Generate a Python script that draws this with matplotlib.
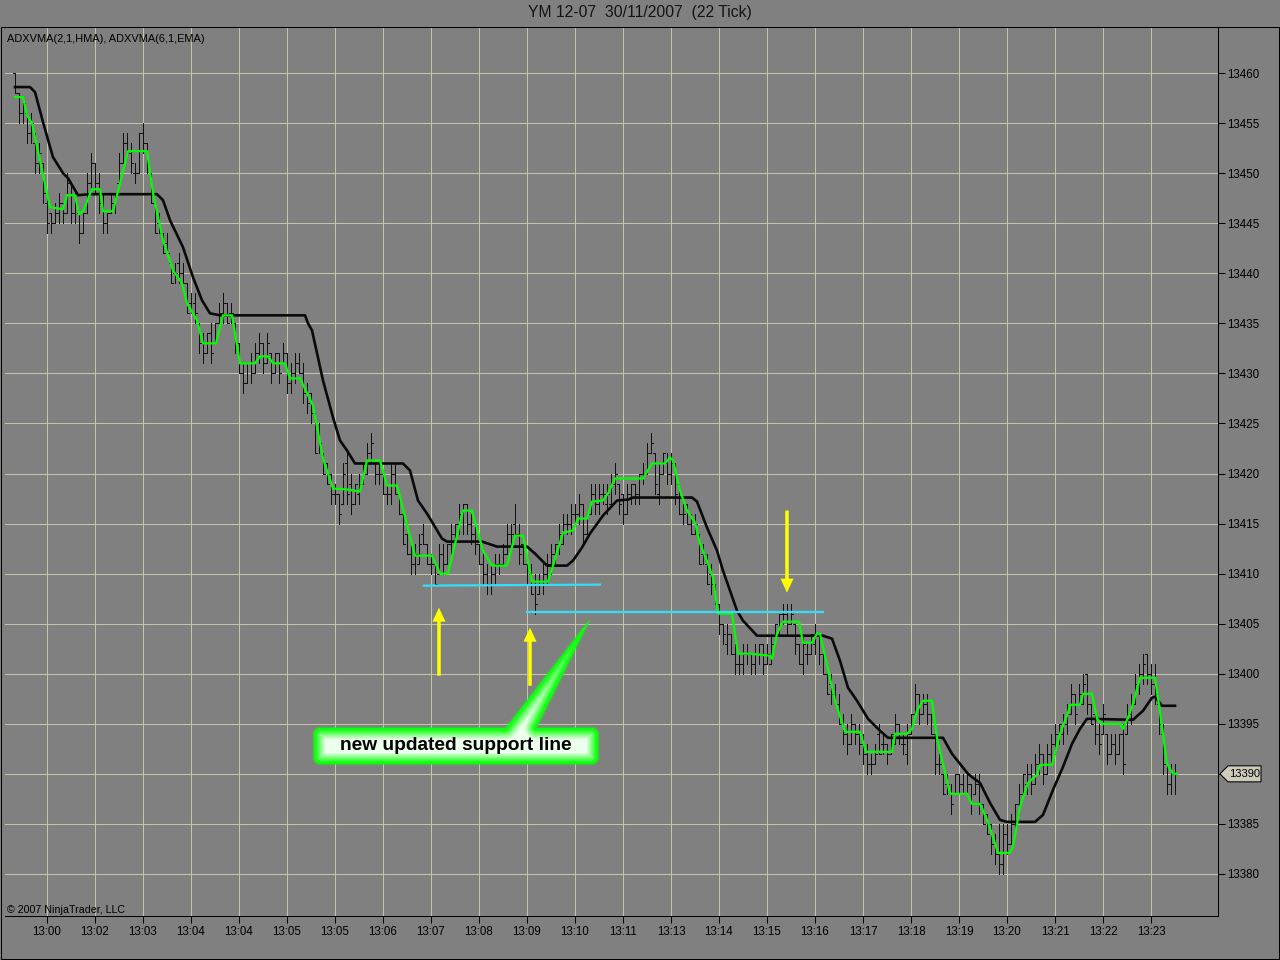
import numpy as np
import matplotlib
matplotlib.use('Agg')
import matplotlib.pyplot as plt
from matplotlib.collections import LineCollection
from matplotlib.patches import Rectangle, Polygon, FancyArrow
from matplotlib.path import Path

plt.rcParams['font.family'] = ['Liberation Sans', 'DejaVu Sans']

title = 'YM 12-07  30/11/2007  (22 Tick)'
indicator_label = 'ADXVMA(2,1,HMA), ADXVMA(6,1,EMA)'
copyright_label = '\u00a9 2007 NinjaTrader, LLC'
callout_text = 'new updated support line'

BASE = 13380  # bar prices are written as offsets from this level

# 22 tick bars, one entry per bar
lows = [
    78, 75, 75, 73, 73, 70, 70, 67, 64, 64,
    65, 65, 65, 66, 65, 65, 63, 64, 66, 68,
    68, 66, 64, 64, 66, 66, 69, 71, 72, 70,
    69, 70, 72, 70, 67, 64, 64, 62, 62, 59,
    59, 59, 59, 56, 56, 55, 52, 51, 52, 51,
    53, 55, 55, 55, 55, 52, 50, 48, 49, 49,
    50, 51, 50, 51, 49, 50, 49, 51, 48, 48,
    49, 50, 47, 46, 45, 42, 42, 40, 39, 37,
    37, 35, 37, 37, 36, 37, 37, 39, 40, 41,
    39, 39, 38, 37, 37, 38, 36, 33, 32, 30,
    30, 31, 33, 31, 30, 29, 30, 30, 31, 32,
    33, 34, 34, 34, 33, 32, 31, 29, 28, 28,
    29, 30, 31, 32, 33, 34, 31, 31, 29, 28,
    26, 28, 28, 29, 30, 31, 32, 33, 34, 34,
    35, 35, 33, 34, 36, 36, 36, 37, 36, 37,
    38, 36, 35, 36, 37, 37, 37, 39, 40, 42,
    38, 37, 40, 39, 39, 37, 36, 35, 35, 34,
    34, 31, 31, 29, 28, 27, 24, 23, 22, 22,
    20, 20, 20, 21, 20, 20, 21, 20, 21, 21,
    23, 24, 25, 24, 25, 22, 21, 20, 21, 22,
    22, 21, 20, 18, 17, 17, 15, 13, 12, 13,
    13, 12, 11, 10, 10, 11, 12, 12, 11, 12,
    13, 13, 12, 11, 14, 16, 15, 16, 15, 14,
    10, 10, 8, 8, 6, 8, 8, 8, 8, 6,
    8, 6, 5, 4, 2, 1, 0, 0, 2, 3,
    4, 6, 8, 8, 8, 9, 10, 9, 10, 11,
    12, 13, 13, 14, 16, 15, 17, 17, 16, 15,
    13, 12, 14, 11, 12, 11, 12, 10, 14, 15,
    17, 18, 19, 19, 18, 17, 14, 10, 8, 8,
    8]
highs = [
    80, 78, 77, 76, 76, 74, 73, 71, 68, 66,
    67, 68, 67, 70, 69, 68, 66, 66, 70, 72,
    71, 70, 68, 66, 68, 68, 72, 74, 74, 73,
    71, 74, 75, 73, 70, 67, 66, 64, 64, 61,
    61, 62, 61, 59, 58, 58, 55, 54, 54, 55,
    55, 57, 58, 57, 57, 55, 53, 51, 51, 52,
    53, 54, 53, 54, 52, 52, 52, 53, 52, 51,
    52, 52, 51, 49, 48, 46, 45, 42, 41, 40,
    39, 38, 41, 42, 40, 39, 40, 41, 43, 44,
    41, 41, 40, 39, 41, 41, 38, 36, 34, 33,
    33, 34, 35, 33, 32, 31, 33, 33, 33, 35,
    35, 37, 37, 37, 36, 35, 33, 32, 31, 31,
    32, 32, 33, 35, 35, 37, 35, 33, 31, 31,
    30, 30, 31, 32, 33, 33, 35, 36, 36, 37,
    37, 38, 37, 36, 39, 39, 39, 39, 39, 40,
    41, 39, 38, 39, 39, 39, 40, 41, 43, 44,
    42, 41, 42, 42, 42, 41, 39, 37, 37, 36,
    36, 34, 33, 32, 31, 29, 27, 25, 25, 24,
    23, 22, 23, 23, 22, 23, 23, 23, 23, 24,
    25, 26, 27, 27, 27, 25, 23, 24, 23, 24,
    25, 24, 22, 20, 20, 19, 18, 16, 15, 16,
    15, 15, 14, 13, 12, 13, 15, 14, 13, 14,
    16, 15, 14, 15, 16, 19, 18, 18, 18, 16,
    14, 12, 10, 10, 9, 10, 10, 10, 10, 9,
    10, 10, 7, 6, 5, 4, 5, 5, 5, 6,
    7, 9, 10, 11, 11, 12, 13, 12, 13, 14,
    15, 15, 16, 17, 19, 18, 19, 20, 20, 17,
    16, 15, 17, 14, 14, 14, 14, 15, 17, 18,
    20, 21, 22, 22, 21, 21, 17, 15, 11, 11,
    11]
opens = [
    80, 78, 76, 76, 74, 73, 71, 71, 67, 66,
    65, 66, 67, 66, 69, 66, 66, 64, 66, 69,
    71, 69, 68, 65, 66, 67, 69, 71, 73, 72,
    70, 70, 74, 73, 70, 67, 65, 64, 63, 61,
    60, 61, 60, 59, 57, 57, 55, 53, 52, 54,
    53, 55, 56, 57, 56, 55, 53, 50, 49, 51,
    50, 52, 53, 51, 52, 50, 52, 51, 52, 49,
    50, 51, 50, 48, 48, 46, 44, 42, 41, 40,
    38, 38, 37, 41, 39, 37, 38, 39, 40, 42,
    41, 40, 40, 38, 38, 40, 38, 36, 34, 32,
    31, 31, 34, 33, 31, 31, 30, 32, 31, 33,
    34, 35, 36, 37, 35, 34, 33, 31, 30, 29,
    30, 31, 31, 32, 34, 35, 34, 33, 31, 30,
    29, 28, 29, 30, 31, 32, 33, 33, 35, 35,
    36, 36, 37, 34, 36, 38, 37, 38, 37, 37,
    39, 39, 38, 36, 38, 39, 38, 40, 40, 42,
    42, 38, 40, 41, 40, 41, 39, 36, 37, 35,
    34, 34, 32, 31, 30, 29, 27, 25, 23, 24,
    22, 21, 21, 22, 22, 21, 22, 23, 21, 21,
    23, 24, 26, 26, 25, 25, 23, 21, 22, 22,
    23, 24, 22, 20, 19, 18, 17, 15, 14, 13,
    15, 14, 13, 12, 11, 11, 14, 13, 13, 12,
    13, 15, 13, 12, 14, 16, 18, 16, 17, 16,
    14, 11, 10, 9, 8, 8, 10, 9, 8, 9,
    8, 9, 7, 6, 5, 3, 2, 1, 4, 3,
    5, 7, 8, 9, 10, 9, 11, 12, 10, 12,
    13, 14, 14, 15, 16, 18, 17, 17, 20, 17,
    16, 14, 14, 14, 12, 13, 12, 14, 14, 16,
    17, 19, 20, 22, 20, 19, 17, 14, 11, 9,
    10]
closes = [
    78, 76, 77, 74, 75, 71, 72, 68, 65, 65,
    66, 67, 66, 69, 66, 67, 64, 66, 69, 71,
    69, 67, 65, 66, 67, 68, 71, 73, 72, 71,
    70, 74, 73, 71, 67, 64, 64, 62, 62, 59,
    60, 60, 59, 56, 56, 56, 53, 52, 54, 52,
    55, 56, 57, 55, 56, 53, 50, 49, 51, 50,
    52, 53, 51, 53, 50, 52, 50, 52, 49, 50,
    51, 50, 48, 47, 46, 42, 43, 40, 39, 38,
    38, 36, 40, 38, 37, 39, 39, 41, 42, 43,
    40, 40, 38, 38, 40, 38, 36, 33, 32, 31,
    32, 33, 33, 31, 31, 29, 32, 31, 33, 34,
    35, 36, 37, 35, 34, 33, 31, 30, 29, 30,
    31, 31, 32, 34, 34, 34, 32, 31, 29, 28,
    27, 29, 30, 31, 32, 33, 34, 35, 35, 36,
    36, 37, 34, 36, 38, 37, 38, 38, 38, 39,
    40, 37, 36, 38, 39, 38, 40, 40, 42, 43,
    39, 40, 42, 40, 41, 38, 36, 36, 35, 34,
    35, 31, 32, 29, 29, 27, 25, 24, 24, 22,
    21, 21, 22, 22, 21, 22, 23, 21, 22, 23,
    25, 26, 26, 25, 26, 23, 21, 23, 22, 24,
    24, 22, 20, 18, 18, 17, 15, 14, 13, 15,
    14, 13, 12, 11, 11, 12, 12, 13, 12, 14,
    15, 14, 13, 14, 16, 18, 16, 17, 16, 14,
    11, 11, 8, 9, 7, 10, 9, 8, 9, 7,
    9, 7, 5, 4, 3, 2, 1, 4, 3, 5,
    7, 8, 10, 10, 9, 11, 12, 10, 12, 13,
    14, 15, 15, 16, 18, 16, 18, 19, 17, 15,
    14, 13, 16, 12, 13, 12, 14, 11, 16, 17,
    19, 20, 21, 20, 19, 18, 15, 11, 9, 10,
    10]

# time axis labels, one every 12 bars starting at bar 8
time_labels = ['13:00', '13:02', '13:03', '13:04', '13:04', '13:05', '13:05', '13:06',
               '13:07', '13:08', '13:09', '13:10', '13:11', '13:13', '13:14', '13:15',
               '13:16', '13:17', '13:18', '13:19', '13:20', '13:21', '13:22', '13:23']

# ADXVMA(2,1,HMA) - green, vertices as (bar, price)
green_line = [
    (0, 13457.6), (2, 13457.6), (3, 13455.8), (4.25, 13455), (8.75, 13446.6), (12, 13446.4),
    (13, 13447.8), (15, 13447.8), (16, 13445.9), (17, 13446.2), (19.25, 13448.4), (21.25, 13448.4),
    (22, 13446.2), (24.5, 13446.2), (28.25, 13452.2), (33, 13452.2), (34.5, 13448), (37, 13443.3),
    (39.5, 13440.3), (41.75, 13439), (43, 13437), (45.5, 13435.3), (47, 13433), (50.25, 13433),
    (52, 13435.8), (54.25, 13435.8), (56.25, 13431), (60, 13431), (61.25, 13431.7), (63.25, 13431.7),
    (64.5, 13431), (67.5, 13431), (68.75, 13429.5), (71.25, 13429.5), (74.5, 13426.8), (77, 13421.5),
    (79.5, 13418.5), (83, 13418.4), (86.25, 13418.2), (88, 13421.3), (91.25, 13421.3), (93, 13418.8),
    (95.5, 13418.8), (100, 13411.8), (104.25, 13411.8), (106.25, 13410), (108.25, 13410),
    (112, 13416.3), (114.25, 13416.3), (117, 13412.3), (119.25, 13410.8), (123, 13410.8),
    (125, 13413.8), (127, 13413.8), (129.25, 13409.2), (133.25, 13409.2), (134.5, 13410.8),
    (137, 13414.1), (139.5, 13414.3), (140.75, 13415.5), (143, 13415.5), (144.25, 13417.2),
    (147, 13417.3), (148.25, 13418), (150, 13419.5), (157, 13419.5), (159.25, 13421), (162.5, 13421),
    (163.75, 13421.6), (164.5, 13421.3), (166.25, 13418.3), (168, 13416.3), (170, 13415.1),
    (171.25, 13413), (173.25, 13411), (174.5, 13409.6), (175.75, 13406), (179.25, 13406),
    (180.75, 13402), (183.75, 13402), (188.75, 13401.8), (189.25, 13401.5), (190.5, 13404),
    (192, 13405.2), (196, 13405.2), (197, 13403.1), (199.25, 13403.1), (200.5, 13404), (201.25, 13404),
    (203.75, 13399.6), (205, 13397.3), (207.5, 13394.2), (211.25, 13394.2), (212.75, 13392.2),
    (219.25, 13392.2), (220, 13394), (223, 13394), (224.25, 13394.5), (225.5, 13396.3), (227, 13397.3),
    (229.25, 13397.3), (230.5, 13393.6), (233.75, 13388), (238, 13388), (239.25, 13387), (241.25, 13387),
    (243.25, 13385.2), (245.75, 13382.1), (248.75, 13382.1), (249.5, 13382.7), (251.25, 13386.7),
    (253.25, 13389.1), (255.5, 13389.9), (256.25, 13390.9), (259.25, 13390.9), (261.25, 13394),
    (263.25, 13396.1), (263.75, 13396.9), (266.25, 13396.9), (267, 13398), (269.25, 13398),
    (270.5, 13395.5), (271.75, 13395), (276.25, 13395), (277, 13394.5), (278.25, 13395.6),
    (279.5, 13397), (281.25, 13399.6), (285, 13399.6), (285.75, 13397.6), (288, 13391),
    (289.5, 13390), (290.5, 13390)]

# ADXVMA(6,1,EMA) - black
black_line = [
    (0, 13458.6), (3.75, 13458.6), (5, 13458.1), (7, 13455.1), (9.5, 13451.6), (12, 13450),
    (13.25, 13449.5), (15.75, 13447.8), (18.75, 13447.9), (35.5, 13447.9), (37, 13447.3),
    (38.75, 13445.3), (42, 13442.6), (44.5, 13439.6), (46.75, 13437.3), (48.75, 13436),
    (51.25, 13435.8), (72.5, 13435.8), (73.25, 13435), (74.25, 13434.3), (77, 13429.3),
    (79.5, 13425.6), (81.25, 13423.3), (83, 13422.3), (85, 13421), (97, 13421), (98.75, 13420.3),
    (100.75, 13417.3), (103, 13416), (104.5, 13415), (106.75, 13413.5), (108, 13413.2),
    (116.75, 13413.2), (118.25, 13413), (120.5, 13412.7), (128, 13412.7), (130, 13412),
    (133, 13410.8), (138, 13410.8), (139.5, 13411.3), (141.75, 13412.6), (143.75, 13414),
    (147, 13415.8), (150.5, 13417.3), (153.25, 13417.4), (154.5, 13417.6), (169.25, 13417.6),
    (170.5, 13417.2), (173, 13414.6), (175.5, 13412.3), (177, 13410.3), (180.5, 13406.3),
    (182, 13405.3), (185.5, 13403.8), (202, 13403.8), (204.25, 13403.5), (206.25, 13401.3),
    (208.25, 13398.6), (210.5, 13397.3), (213.25, 13395.5), (216.25, 13394.3), (218.25, 13393.6),
    (232, 13393.6), (234.25, 13392), (238.25, 13390), (239.5, 13389.6), (241.25, 13389.1),
    (243.75, 13387.1), (246.25, 13385.4), (248, 13385.2), (255, 13385.2), (257, 13385.9),
    (259.5, 13388.4), (262, 13390.7), (264.25, 13393), (266.25, 13394.5), (268, 13395.5),
    (279.5, 13395.4), (282, 13396.3), (284.25, 13397.6), (285, 13397.7), (286.75, 13396.8),
    (290, 13396.8)]

# drawn objects
support_lines = [[(102.25, 13408.8), (146.25, 13408.9)],
                 [(128, 13406.15), (202, 13406.15)]]
arrows = [((106, 13399.8), (106, 13406.6)),
          ((128.75, 13398.8), (128.75, 13404.6)),
          ((193, 13416.3), (193, 13408.1))]

GREY = '#808080'
W, H = 1280, 960

fig = plt.figure(figsize=(12.8, 9.6), dpi=100, facecolor=GREY)
ax = fig.add_axes([5 / W, 44 / H, 1213 / W, 889 / H])
ax.set_facecolor(GREY)

lo = BASE + np.array(lows)
hi = BASE + np.array(highs)
op = BASE + np.array(opens)
cl = BASE + np.array(closes)
segs = []
for i in range(len(lo)):
    segs.append([(i, lo[i]), (i, hi[i])])
    segs.append([(i - 0.55, op[i]), (i, op[i])])
    segs.append([(i, cl[i]), (i + 0.55, cl[i])])
ax.add_collection(LineCollection(segs, colors='#111111', linewidths=0.6,
                                 antialiaseds=False, zorder=2))

bx, by = zip(*black_line)
ax.plot(bx, by, color='#0a0a0a', lw=1.9, solid_joinstyle='round', zorder=3)
gx, gy = zip(*green_line)
ax.plot(gx, gy, color='#00ff00', lw=1.6, solid_joinstyle='round', zorder=4)

for seg in support_lines:
    xs, ys = zip(*seg)
    ax.plot(xs, ys, color='#30e0f8', lw=1.6, zorder=5)

ax.set_xlim(-2.5, 300.75)
ax.set_ylim(13375.8, 13464.6)
ax.yaxis.tick_right()
yt = np.arange(13380, 13461, 5)
ax.set_yticks(yt)
ax.set_yticklabels([str(v) for v in yt])
ax.set_xticks([8 + 12 * k for k in range(len(time_labels))])
ax.set_xticklabels(time_labels)
ax.tick_params(axis='both', direction='out', length=5, width=0.75, color='black',
               labelsize=8.3, labelcolor='black')
ax.tick_params(axis='y', pad=1.5)
ax.tick_params(axis='x', pad=2.5)
ax.grid(True, color='#c6c2b0', linewidth=0.75)
ax.set_axisbelow(True)
ax.spines['top'].set_visible(False)
ax.spines['left'].set_visible(False)
ax.spines['right'].set_linewidth(0.75)
ax.spines['bottom'].set_linewidth(0.75)

# overlay in pixel coordinates for the decorations
ov = fig.add_axes([0, 0, 1, 1], facecolor='none')
ov.set_autoscale_on(False)
ov.set_xlim(0, W)
ov.set_ylim(H, 0)
ov.axis('off')


def to_px(x, y):
    px, py = ax.transData.transform((x, y))
    return px, H - py


ov.add_patch(Rectangle((0.5, 27), W - 1.5, H - 28, fill=False, ec='black', lw=0.75))
fig.text(0.5, 1 - 13 / H, title, ha='center', va='center', fontsize=11.3, color='#141414')
ov.text(7, 39, indicator_label, va='center', fontsize=7.9, color='black')
ov.text(7, 910, copyright_label, va='center', fontsize=7.7, color='black')

for base, tip in arrows:
    x0, y0 = to_px(*base)
    x1, y1 = to_px(*tip)
    ov.add_patch(FancyArrow(x0, y0, x1 - x0, y1 - y0, width=3.5, head_width=13,
                            head_length=14, length_includes_head=True,
                            color='#ffff00', lw=0, zorder=6))

# last price tag on the price axis
_, ty = to_px(0, cl[-1])
tag = [(1220, ty), (1228, ty - 8), (1261, ty - 8), (1261, ty + 8), (1228, ty + 8)]
ov.add_patch(Polygon(tag, closed=True, fc='#cfcbbb', ec='black', lw=0.75))
ov.text(1244.5, ty + 0.5, str(int(cl[-1])), ha='center', va='center', fontsize=8, color='black')

# callout box with tail, green rim fading to a pale centre
x0, y0, x1, y1, r = 314, 728, 598, 764, 6


def arc(cx, cy, a0, a1):
    a = np.radians(np.linspace(a0, a1, 6))
    return list(zip(cx + r * np.cos(a), cy + r * np.sin(a)))


verts = (arc(x0 + r, y0 + r, 180, 270) + [(506, y0), (589, 621), (536, y0)]
         + arc(x1 - r, y0 + r, 270, 360) + arc(x1 - r, y1 - r, 0, 90)
         + arc(x0 + r, y1 - r, 90, 180))
verts = np.array(verts)
gxs = np.arange(x0 - 3, x1 + 4) + 0.5
gys = np.arange(616, y1 + 4) + 0.5
GX, GY = np.meshgrid(gxs, gys)
pts = np.column_stack([GX.ravel(), GY.ravel()])
inside = Path(verts).contains_points(pts)
dist = np.full(len(pts), np.inf)
for a, b in zip(verts, np.roll(verts, -1, axis=0)):
    ab = b - a
    t = np.clip(((pts - a) @ ab) / (ab @ ab + 1e-9), 0, 1)
    proj = a + t[:, None] * ab
    dist = np.minimum(dist, np.hypot(*(pts - proj).T))
edge = np.array([0.05, 1.0, 0.05])
centre = np.array([0.93, 1.0, 0.93])
f = np.clip((dist - 1.5) / 10.0, 0, 1)[:, None]
rgb = edge * (1 - f) + centre * f
alpha = np.where(inside, 1.0, np.clip(1 - dist / 2.0, 0, 1) * 0.6)
img = np.concatenate([rgb, alpha[:, None]], axis=1).reshape(len(gys), len(gxs), 4)
ov.imshow(img, extent=(gxs[0] - 0.5, gxs[-1] + 0.5, gys[-1] + 0.5, gys[0] - 0.5),
          origin='upper', interpolation='bilinear', aspect='auto', zorder=7)
ov.set_xlim(0, W)
ov.set_ylim(H, 0)
ov.text((x0 + x1) / 2, 746, callout_text, ha='center', va='center', fontsize=13.8,
        fontweight='bold', color='black', zorder=8)

fig.savefig('out.png', dpi=100, facecolor=GREY)
